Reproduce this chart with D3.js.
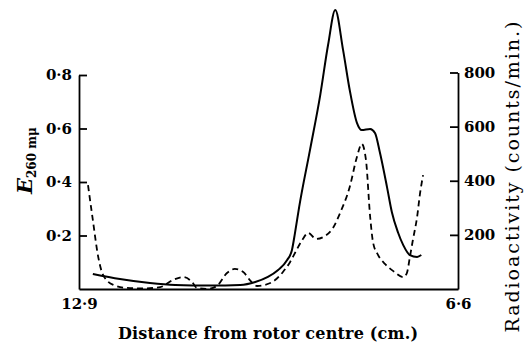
<!DOCTYPE html>
<html>
<head>
<meta charset="utf-8">
<script src="https://cdn.jsdelivr.net/npm/d3@7"></script>
<style>
  body { margin: 0; background: #fff; }
  svg text { font-family: "DejaVu Serif", "Liberation Serif", serif; fill: #000; }
</style>
</head>
<body>
<svg id="canvas"></svg>
<script>
// E260 (solid line)
let eDist = [12.67, 12.22, 11.72, 11.30, 10.72, 10.22, 9.97, 9.76, 9.59, 9.44, 9.36, 9.31, 9.24, 9.06, 8.89, 8.76, 8.64, 8.51, 8.40, 8.28, 8.20, 8.06, 7.98, 7.90, 7.78, 7.70, 7.60, 7.51, 7.40, 7.28, 7.21]
let eValues = [0.056, 0.037, 0.022, 0.015, 0.013, 0.015, 0.026, 0.045, 0.071, 0.108, 0.146, 0.209, 0.307, 0.520, 0.725, 0.912, 1.043, 0.893, 0.744, 0.621, 0.594, 0.598, 0.583, 0.512, 0.381, 0.288, 0.213, 0.164, 0.127, 0.120, 0.127]

// radioactivity (dashed line), counts/min.
let rDist = [12.75, 12.67, 12.58, 12.50, 12.33, 12.10, 11.84, 11.55, 11.34, 11.17, 11.02, 10.94, 10.77, 10.61, 10.44, 10.31, 10.17, 10.06, 9.94, 9.81, 9.64, 9.51, 9.39, 9.31, 9.19, 9.09, 8.96, 8.81, 8.68, 8.56, 8.40, 8.28, 8.20, 8.13, 8.06, 8.01, 7.93, 7.81, 7.68, 7.51, 7.45, 7.40, 7.35, 7.28, 7.23, 7.18]
let rCounts = [384, 255, 118, 52, 15, 4, 2, 7, 33, 44, 26, 4, 0, 11, 59, 74, 63, 33, 11, 15, 33, 63, 100, 133, 181, 207, 185, 196, 225, 281, 377, 488, 536, 477, 266, 170, 126, 92, 67, 44, 59, 118, 181, 266, 355, 421]

let leftTicks = [0.2, 0.4, 0.6, 0.8]
let rightTicks = [200, 400, 600, 800]
let xTicks = [12.9, 6.6]

let width = 526
let height = 347

let svg = d3.select('#canvas')
svg.attr('width', width)
svg.attr('height', height)

let xScale = d3.scaleLinear()
            .domain([12.9, 6.6])
            .range([79, 458])

let yScale = d3.scaleLinear()
            .domain([0, 0.8])
            .range([289, 75])

let rScale = d3.scaleLinear()
            .domain([0, 800])
            .range([289, 72.5])

let fmt = (d) => d3.format('.1f')(d).replace('.', '\u00b7')

let drawAxes = () => {
    let xAxis = d3.axisBottom(xScale)
                    .tickValues(xTicks)
                    .tickSize(0)
                    .tickPadding(9)
                    .tickFormat(fmt)

    let yAxis = d3.axisLeft(yScale)
                    .tickValues(leftTicks)
                    .tickSizeInner(-8)
                    .tickSizeOuter(0)
                    .tickPadding(7)
                    .tickFormat(fmt)

    let rAxis = d3.axisRight(rScale)
                    .tickValues(rightTicks)
                    .tickSizeInner(-8)
                    .tickSizeOuter(0)
                    .tickPadding(6)
                    .tickFormat(d3.format('d'))

    svg.append('g')
            .call(xAxis)
            .attr('transform', 'translate(0, 289)')
            .attr('id', 'x-axis')

    svg.append('g')
            .call(yAxis)
            .attr('transform', 'translate(79, 0)')
            .attr('id', 'y-axis')

    svg.append('g')
            .call(rAxis)
            .attr('transform', 'translate(458, 0)')
            .attr('id', 'r-axis')

    svg.selectAll('.domain').attr('stroke', '#000').attr('stroke-width', 1.8)
    svg.selectAll('.tick line').attr('stroke', '#000').attr('stroke-width', 1.8)
    svg.selectAll('.tick text')
            .attr('font-family', '"DejaVu Serif", serif')
            .attr('font-size', 15)
            .attr('font-weight', 'bold')
}

let drawLines = () => {
    let eLine = d3.line()
                .x((d, i) => xScale(eDist[i]))
                .y((d) => yScale(d))
                .curve(d3.curveMonotoneX)

    let rLine = d3.line()
                .x((d, i) => xScale(rDist[i]))
                .y((d) => rScale(d))
                .curve(d3.curveMonotoneX)

    svg.append('path')
        .attr('d', rLine(rCounts))
        .attr('fill', 'none')
        .attr('stroke', '#000')
        .attr('stroke-width', 1.8)
        .attr('stroke-dasharray', '6,4')

    svg.append('path')
        .attr('d', eLine(eValues))
        .attr('fill', 'none')
        .attr('stroke', '#000')
        .attr('stroke-width', 2)
}

let drawLabels = () => {
    svg.append('text')
        .attr('x', 268)
        .attr('y', 339)
        .attr('text-anchor', 'middle')
        .attr('font-size', 16)
        .attr('font-weight', 'bold')
        .attr('textLength', 300)
        .text('Distance from rotor centre (cm.)')

    svg.append('text')
        .attr('transform', 'translate(519, 177) rotate(-90)')
        .attr('text-anchor', 'middle')
        .attr('font-size', 19)
        .attr('textLength', 311)
        .text('Radioactivity (counts/min.)')

    let eLabel = svg.append('text')
        .attr('transform', 'translate(32, 194) rotate(-90)')
        .attr('font-weight', 'bold')
    eLabel.append('tspan')
        .attr('font-size', 21)
        .attr('font-style', 'italic')
        .text('E')
    eLabel.append('tspan')
        .attr('font-size', 12)
        .attr('dy', 4)
        .text('260 m\u03bc')
}

drawAxes()
drawLines()
drawLabels()
</script>
</body>
</html>
